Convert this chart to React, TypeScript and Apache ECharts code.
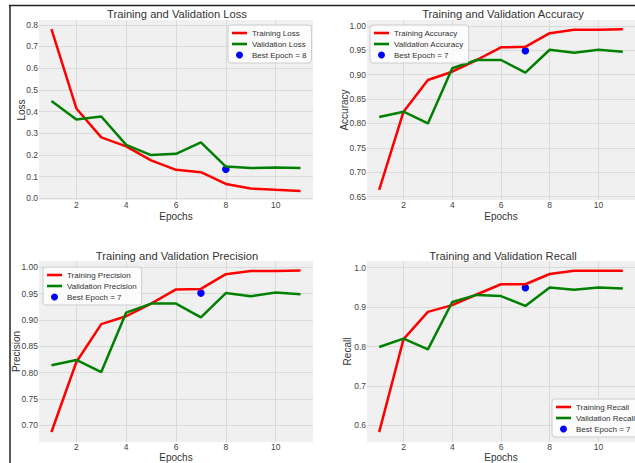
import React, { useEffect, useRef } from "react";
import * as echarts from "echarts";

const epochs = [1, 2, 3, 4, 5, 6, 7, 8, 9, 10, 11];
const trainLoss = [0.78, 0.414, 0.281, 0.239, 0.175, 0.131, 0.12, 0.066, 0.045, 0.039, 0.034];
const valLoss = [0.448, 0.363, 0.377, 0.246, 0.199, 0.205, 0.258, 0.146, 0.139, 0.142, 0.14];
const bestLoss = [8, 0.134];
const trainAcc = [0.664, 0.824, 0.889, 0.906, 0.93, 0.956, 0.957, 0.985, 0.992, 0.992, 0.993];
const valAcc = [0.813, 0.824, 0.8, 0.913, 0.93, 0.93, 0.904, 0.951, 0.945, 0.951, 0.947];
const bestAcc = [7, 0.949];
const trainPrec = [0.687, 0.82, 0.892, 0.907, 0.931, 0.958, 0.959, 0.987, 0.993, 0.993, 0.994];
const valPrec = [0.814, 0.824, 0.801, 0.914, 0.931, 0.931, 0.905, 0.951, 0.945, 0.952, 0.949];
const bestPrec = [7, 0.951];
const trainRec = [0.583, 0.819, 0.888, 0.905, 0.932, 0.958, 0.958, 0.984, 0.992, 0.992, 0.992];
const valRec = [0.799, 0.82, 0.793, 0.913, 0.931, 0.928, 0.903, 0.95, 0.944, 0.95, 0.947];
const bestRec = [7, 0.949];

const xTicks = [2, 4, 6, 8, 10];
const lossTicks = [0, 0.1, 0.2, 0.3, 0.4, 0.5, 0.6, 0.7, 0.8];
const accTicks = [0.65, 0.7, 0.75, 0.8, 0.85, 0.9, 0.95, 1.0];
const precTicks = [0.7, 0.75, 0.8, 0.85, 0.9, 0.95, 1.0];
const recTicks = [0.6, 0.7, 0.8, 0.9, 1.0];

const FONT = "'Liberation Sans', Arial, sans-serif";
const LINE_ICON = "path://M0,0L15,0L15,2.6L0,2.6Z";

const panels = [
  {
    title: "Training and Validation Loss", yName: "Loss", metric: "Loss",
    train: trainLoss, val: valLoss, best: bestLoss, bestLabel: "Best Epoch = 8",
    ticks: lossTicks, dec: 1, min: -0.008, max: 0.822,
    grid: { left: 39, top: 20, width: 274, height: 180 },
    titleX: 177, titleY: 8, yGap: 13, xGap: 11,
    legend: { left: 228, top: 25 },
  },
  {
    title: "Training and Validation Accuracy", yName: "Accuracy", metric: "Accuracy",
    train: trainAcc, val: valAcc, best: bestAcc, bestLabel: "Best Epoch = 7",
    ticks: accTicks, dec: 2, min: 0.643, max: 1.012,
    grid: { left: 367, top: 20, width: 272, height: 180 },
    titleX: 503, titleY: 8, yGap: 18, xGap: 11,
    legend: { left: 370, top: 25 },
  },
  {
    title: "Training and Validation Precision", yName: "Precision", metric: "Precision",
    train: trainPrec, val: valPrec, best: bestPrec, bestLabel: "Best Epoch = 7",
    ticks: precTicks, dec: 2, min: 0.668, max: 1.012,
    grid: { left: 39, top: 261, width: 274, height: 182 },
    titleX: 177, titleY: 250, yGap: 18, xGap: 10,
    legend: { left: 43, top: 267 },
  },
  {
    title: "Training and Validation Recall", yName: "Recall", metric: "Recall",
    train: trainRec, val: valRec, best: bestRec, bestLabel: "Best Epoch = 7",
    ticks: recTicks, dec: 1, min: 0.558, max: 1.017,
    grid: { left: 367, top: 261, width: 272, height: 181 },
    titleX: 503, titleY: 250, yGap: 15, xGap: 10,
    legend: { left: 552, top: 399 },
  },
];

export default function App() {
  const ref = useRef<HTMLDivElement>(null);
  useEffect(() => {
    if (!ref.current) return;
    const chart = echarts.init(ref.current, undefined, { renderer: "svg" });
    const grids: any[] = [];
    const xAxes: any[] = [];
    const yAxes: any[] = [];
    const titles: any[] = [];
    const legends: any[] = [];
    const series: any[] = [];
    panels.forEach((p, i) => {
      grids.push({ ...p.grid, backgroundColor: "#f0f0f0", show: true, borderWidth: 0 });
      xAxes.push({
        type: "value", gridIndex: i, min: 0.5, max: 11.5,
        name: "Epochs", nameLocation: "middle", nameGap: p.xGap, nameMoveOverlap: false,
        nameTextStyle: { fontSize: 10, color: "#333", fontFamily: FONT },
        axisLine: { show: false },
        axisTick: { show: false, customValues: xTicks },
        axisLabel: { customValues: xTicks, fontSize: 8.5, color: "#444", margin: 0, fontFamily: FONT },
        splitLine: { show: true, lineStyle: { color: "#dadada", width: 1 } },
      });
      yAxes.push({
        type: "value", gridIndex: i, min: p.min, max: p.max,
        name: p.yName, nameLocation: "middle", nameGap: p.yGap, nameRotate: 90, nameMoveOverlap: false,
        nameTextStyle: { fontSize: 10, color: "#333", fontFamily: FONT },
        axisLine: { show: false },
        axisTick: { show: false, customValues: p.ticks },
        axisLabel: {
          customValues: p.ticks, fontSize: 8.5, color: "#444", margin: 1, fontFamily: FONT,
          formatter: (v: number) => v.toFixed(p.dec),
        },
        splitLine: { show: true, lineStyle: { color: "#dadada", width: 1 } },
      });
      titles.push({
        text: p.title, left: p.titleX, top: p.titleY, textAlign: "center",
        textStyle: { fontSize: 11.2, fontWeight: "normal", color: "#333", fontFamily: FONT },
        padding: 0,
      });
      const tName = "Training " + p.metric;
      const vName = "Validation " + p.metric;
      legends.push({
        left: p.legend.left, top: p.legend.top, orient: "vertical",
        data: [
          { name: tName, icon: LINE_ICON },
          { name: vName, icon: LINE_ICON },
          { name: p.bestLabel, icon: "circle" },
        ],
        selectedMode: false,
        itemWidth: 15, itemHeight: 7, itemGap: 3, symbolKeepAspect: true,
        backgroundColor: "rgba(255,255,255,0.8)", borderColor: "#cccccc", borderWidth: 1,
        borderRadius: 3, padding: [4, 5, 4, 4],
        textStyle: { fontSize: 8, color: "#333", fontFamily: FONT },
      });
      series.push({
        type: "line", name: tName, xAxisIndex: i, yAxisIndex: i, symbol: "none", z: 3,
        data: epochs.map((e, k) => [e, p.train[k]]),
        lineStyle: { color: "#ff0000", width: 2.5 }, itemStyle: { color: "#ff0000" },
      });
      series.push({
        type: "line", name: vName, xAxisIndex: i, yAxisIndex: i, symbol: "none", z: 3,
        data: epochs.map((e, k) => [e, p.val[k]]),
        lineStyle: { color: "#008000", width: 2.5 }, itemStyle: { color: "#008000" },
      });
      series.push({
        type: "scatter", name: p.bestLabel, xAxisIndex: i, yAxisIndex: i, symbolSize: 7.5,
        data: [p.best], itemStyle: { color: "#0000ff", opacity: 1 }, z: 2,
      });
    });
    chart.setOption({
      animation: false,
      textStyle: { fontFamily: FONT },
      backgroundColor: "#ffffff",
      grid: grids, xAxis: xAxes, yAxis: yAxes, title: titles, legend: legends, series,
      graphic: [
        { type: "line", shape: { x1: 9, y1: 5.5, x2: 635, y2: 5.5 }, style: { stroke: "#222", lineWidth: 1.5 }, z: 100 },
        { type: "line", shape: { x1: 10, y1: 5, x2: 10, y2: 463 }, style: { stroke: "#222", lineWidth: 1.5 }, z: 100 },
      ],
    });
    return () => chart.dispose();
  }, []);
  return <div ref={ref} style={{ position: "fixed", left: 0, top: 0, width: 635, height: 463 }} />;
}
